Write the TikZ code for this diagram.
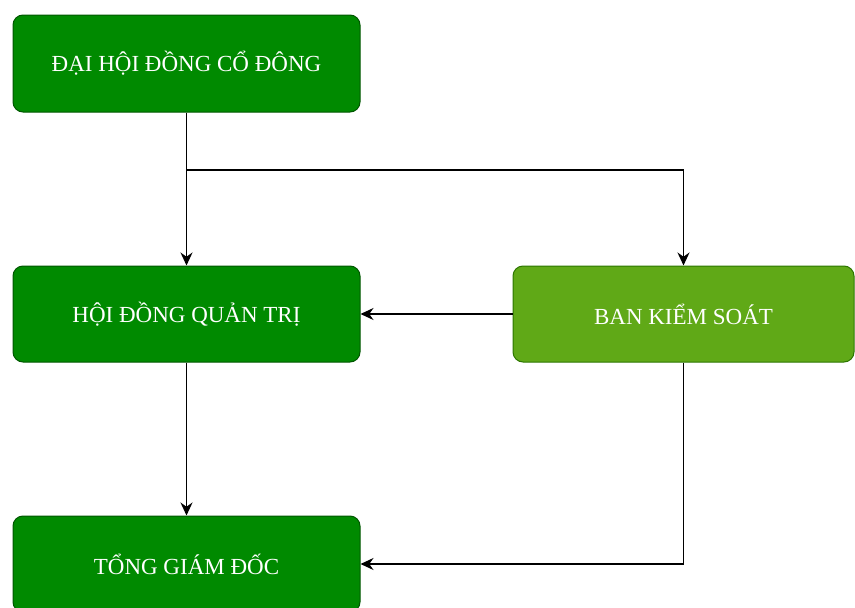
\documentclass[tikz,border=0pt]{standalone}
\usepackage{fontspec}
\setmainfont{Liberation Serif}
\usetikzlibrary{arrows.meta}
\definecolor{dkgreen}{RGB}{0,138,0}
\definecolor{dkgreenline}{RGB}{0,87,0}
\definecolor{ltgreen}{RGB}{96,169,23}
\definecolor{ltgreenline}{RGB}{45,118,0}
\tikzset{
  orgbox/.style={draw=dkgreenline, fill=dkgreen, rounded corners=10pt, line width=1pt,
    text=white, font=\fontsize{23}{27}\selectfont, inner sep=0pt},
  orgboxlt/.style={orgbox, draw=ltgreenline, fill=ltgreen},
  link/.style={draw=black, line width=1.5pt, -{Stealth[length=13pt,width=12pt]}}
}
\begin{document}
\begin{tikzpicture}[x=1pt,y=1pt,yscale=-1,xscale=1]
        \useasboundingbox (0,0) rectangle (855,608);

        %Shape: Rounded Rect [id:dhdcd]
        \node[orgbox, minimum width=347pt, minimum height=97pt] (dhdcd) at (186.5,63.5) {ĐẠI HỘI ĐỒNG CỔ ĐÔNG};
        %Shape: Rounded Rect [id:hdqt]
        \node[orgbox, minimum width=347pt, minimum height=96pt] (hdqt) at (186.5,314) {HỘI ĐỒNG QUẢN TRỊ};
        %Shape: Rounded Rect [id:bks]
        \node[orgboxlt, minimum width=341pt, minimum height=96pt] (bks) at (683.5,314) {BAN KIỂM SOÁT};
        %Shape: Rounded Rect [id:tgd]
        \node[orgbox, minimum width=347pt, minimum height=96pt] (tgd) at (186.5,564) {TỔNG GIÁM ĐỐC};

        \coordinate (split) at (186.5,170);

        %Straight Lines [id:dhdcd-hdqt]
        \draw[link] (dhdcd) -- (hdqt);
        %Elbow [id:split-bks]
        \draw[link] (split) -| (bks.north);
        %Straight Lines [id:bks-hdqt]
        \draw[link] (bks) -- (hdqt);
        %Straight Lines [id:hdqt-tgd]
        \draw[link] (hdqt) -- (tgd);
        %Elbow [id:bks-tgd]
        \draw[link] (bks.south) |- (tgd.east);

    \end{tikzpicture}
\end{document}
